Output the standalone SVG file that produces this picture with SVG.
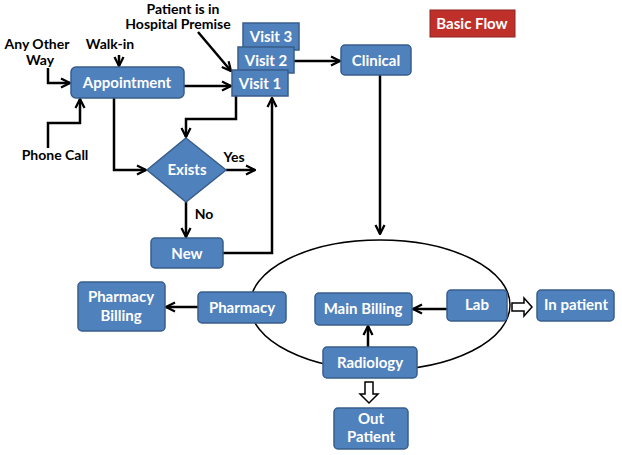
<svg xmlns="http://www.w3.org/2000/svg" width="622" height="455" viewBox="0 0 622 455">
<defs>
<style>
.n{fill:#4f81bd;stroke:#385d8a;stroke-width:1.5}
.t{font-family:Lato,"Liberation Sans",sans-serif;font-weight:bold;font-size:15px;fill:#fff;text-anchor:middle}
.k{font-family:Lato,"Liberation Sans",sans-serif;font-weight:bold;font-size:14px;fill:#000;text-anchor:middle}
.c{fill:none;stroke:#000;stroke-width:2.5}
.h{fill:#fff;stroke:#000;stroke-width:1.5}
</style>
<marker id="a" viewBox="0 0 10 10" refX="9" refY="5" markerWidth="4.5" markerHeight="4.5" orient="auto"><path d="M1,1L9,5L1,9" fill="none" stroke="#000" stroke-width="2"/></marker>
</defs>
<rect width="622" height="455" fill="#fff"/>
<ellipse cx="380" cy="305" rx="130" ry="65" fill="none" stroke="#000" stroke-width="1.5"/>
<g id="connectors">
<path class="c" d="M119,55V66" marker-end="url(#a)"/>
<path class="c" d="M48,68V83H70" marker-end="url(#a)"/>
<path class="c" d="M48,148V123H80V99" marker-end="url(#a)"/>
<path class="c" d="M184,86H231" marker-end="url(#a)"/>
<path class="c" d="M198,32L231,71" marker-end="url(#a)"/>
<path class="c" d="M294,61H340" marker-end="url(#a)"/>
<path class="c" d="M236,96V119H186V137" marker-end="url(#a)"/>
<path class="c" d="M114,98V170H146" marker-end="url(#a)"/>
<path class="c" d="M226,170H255" marker-end="url(#a)"/>
<path class="c" d="M186,202V237" marker-end="url(#a)"/>
<path class="c" d="M223,253H272V98" marker-end="url(#a)"/>
<path class="c" d="M380,75V234" marker-end="url(#a)"/>
<path class="c" d="M447,309H413" marker-end="url(#a)"/>
<path class="c" d="M368,347V326" marker-end="url(#a)"/>
<path class="c" d="M198,307H166" marker-end="url(#a)"/>
<path class="h" d="M512,303H524V298L532,307L524,316V311H512Z"/>
<path class="h" d="M365,382V394H360L369,403L378,394H373V382Z"/>
</g>
<g id="labels">
<text class="k" x="37" y="49">Any Other</text>
<text class="k" x="40" y="65">Way</text>
<text class="k" x="110" y="49">Walk-in</text>
<text class="k" x="55" y="160">Phone Call</text>
<text class="k" x="183" y="14">Patient is in</text>
<text class="k" x="178" y="29">Hospital Premise</text>
<text class="k" x="234" y="162">Yes</text>
<text class="k" x="204" y="219">No</text>
</g>
<g id="basic"><rect x="430" y="10" width="85" height="27" fill="#c0302b" stroke="#8c2420"/><text class="t" x="472" y="29">Basic Flow</text></g>
<g id="appointment"><rect class="n" x="71" y="67" width="113" height="31" rx="5"/><text class="t" x="127" y="88">Appointment</text></g>
<g id="visit3"><rect class="n" x="243" y="23" width="56" height="27"/><text class="t" x="271" y="42">Visit 3</text></g>
<g id="visit2"><rect class="n" x="238" y="47" width="56" height="26"/><text class="t" x="266" y="66">Visit 2</text></g>
<g id="visit1"><rect class="n" x="232" y="70" width="56" height="26"/><text class="t" x="260" y="89">Visit 1</text></g>
<g id="clinical"><rect class="n" x="341" y="45" width="70" height="30" rx="4"/><text class="t" x="376" y="66">Clinical</text></g>
<g id="exists"><path class="n" d="M186,138L226,170L186,202L147,170Z"/><text class="t" x="187" y="175">Exists</text></g>
<g id="new"><rect class="n" x="151" y="238" width="72" height="30" rx="4"/><text class="t" x="187" y="259">New</text></g>
<g id="mainbilling"><rect class="n" x="315" y="293" width="97" height="32" rx="4"/><text class="t" x="363" y="314">Main Billing</text></g>
<g id="lab"><rect class="n" x="447" y="290" width="60" height="31" rx="4"/><text class="t" x="477" y="310">Lab</text></g>
<g id="inpatient"><rect class="n" x="537" y="290" width="77" height="31" rx="4"/><text class="t" x="576" y="310">In patient</text></g>
<g id="radiology"><rect class="n" x="323" y="347" width="94" height="31" rx="4"/><text class="t" x="370" y="368">Radiology</text></g>
<g id="outpatient"><rect class="n" x="334" y="408" width="74" height="41" rx="4"/><text class="t" x="371" y="424">Out</text><text class="t" x="371" y="442">Patient</text></g>
<g id="pharmacy"><rect class="n" x="198" y="292" width="88" height="31" rx="4"/><text class="t" x="242" y="313">Pharmacy</text></g>
<g id="pharmacybilling"><rect class="n" x="78" y="282" width="87" height="49" rx="4"/><text class="t" x="121" y="302">Pharmacy</text><text class="t" x="121" y="321">Billing</text></g>
</svg>
